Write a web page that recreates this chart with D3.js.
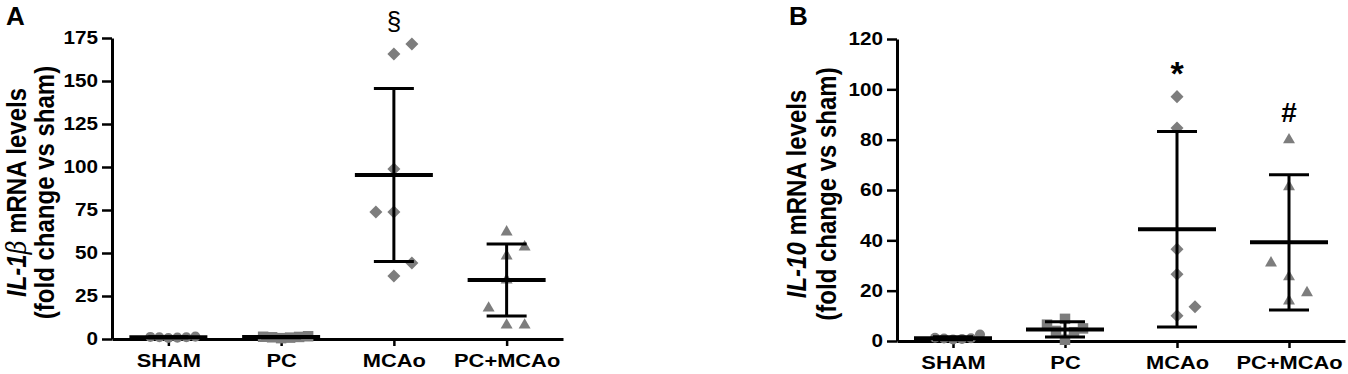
<!DOCTYPE html>
<html>
<head>
<meta charset="utf-8">
<script src="https://cdn.jsdelivr.net/npm/d3@7"></script>
<style>
  body { margin: 0; background: #fff; }
  svg { font-family: "Liberation Sans", Arial, sans-serif; }
</style>
</head>
<body>
<svg id="chart" width="1348" height="374"></svg>
<script>
// ---- data ----
const categories = ["SHAM", "PC", "MCAo", "PC+MCAo"];

// panel A: IL-1beta fold change
const il1bSham   = [0.6, 0.8, 1.0, 1.0, 1.2, 1.4];
const il1bPc     = [0.5, 0.8, 1.0, 1.2, 1.3, 1.6];
const il1bMcao   = [171.5, 165.7, 98.8, 73.8, 73.8, 44.2, 36.6];
const il1bPcMcao = [62.2, 53.5, 48.3, 34.3, 18.0, 8.1, 8.1];
const il1bMean   = [1.0, 1.1, 95.3, 34.3];
const il1bSd     = [0.3, 0.4, 50.3, 20.9];
const il1bTicks  = [0, 25, 50, 75, 100, 125, 150, 175];

// panel B: IL-10 fold change
const il10Sham   = [0.6, 0.8, 1.0, 1.1, 1.3, 2.6];
const il10Pc     = [8.8, 6.5, 5.0, 4.0, 3.5, 0.5];
const il10Mcao   = [97.1, 84.6, 36.5, 26.5, 13.6, 10.0];
const il10PcMcao = [79.9, 61.3, 31.0, 25.5, 19.2, 15.9];
const il10Mean   = [1.1, 4.6, 44.4, 39.2];
const il10Sd     = [0.6, 3.0, 38.8, 26.9];
const il10Ticks  = [0, 20, 40, 60, 80, 100, 120];

// significance marks above groups
const il1bMarks = [{ cat: "MCAo", label: "\u00a7" }];
const il10Marks = [{ cat: "MCAo", label: "*" }, { cat: "PC+MCAo", label: "#" }];

// ---- styling ----
const grey = "#7d7d7d";
const stretch = 1.15;   // the source figure is slightly wide
const markerStyle = {
    "SHAM":    { shape: d3.symbolCircle,   size: 80,  rotate: 0,  step: 9 },
    "PC":      { shape: d3.symbolSquare,   size: 110, rotate: 0,  step: 9 },
    "MCAo":    { shape: d3.symbolSquare,   size: 85,  rotate: 45, step: 18 },
    "PC+MCAo": { shape: d3.symbolTriangle, size: 62,  rotate: 0,  step: 18 }
};
// dy = baseline offset above the highest point of the group
const markStyle = {
    "\u00a7": { size: 26, weight: "normal", dy: -14 },
    "*":      { size: 34, weight: "bold",   dy: -12 },
    "#":      { size: 28, weight: "bold",   dy: -18 }
};

const svg = d3.select("#chart");

// spread overlapping points sideways, GraphPad style
function dodge(values, y, reach) {
    const order = d3.range(values.length).sort((a, b) => values[a] - values[b]);
    const placed = [];
    const slots = new Array(values.length);
    let side = 1;
    order.forEach(i => {
        const py = y(values[i]);
        const hits = s => placed.some(p => p.s === s && Math.abs(p.py - py) < reach);
        let s = 0;
        if (hits(0)) {
            for (let k = 1; ; k++) {
                if (!hits(side * k)) { s = side * k; break; }
                if (!hits(-side * k)) { s = -side * k; break; }
            }
            side = -Math.sign(s);
        }
        placed.push({ s, py });
        slots[i] = s;
    });
    return slots;
}

// widen tick labels in place (keeps their anchor point)
function widen(sel) {
    sel.each(function() {
        const t = d3.select(this);
        const tx = +t.attr("x") || 0;
        t.attr("x", 0).attr("transform", `translate(${tx},0) scale(${stretch},1)`);
    });
}

function drawPanel(cfg) {
    const g = svg.append("g");

    const x = d3.scalePoint()
        .domain(categories)
        .range(cfg.xRange)
        .padding(0.5);

    const y = d3.scaleLinear()
        .domain(cfg.yDomain)
        .range(cfg.yRange);

    // y axis
    const yAxis = g.append("g")
        .attr("transform", `translate(${cfg.xRange[0]},0)`)
        .call(d3.axisLeft(y).tickValues(cfg.ticks).tickSize(10).tickSizeOuter(0).tickPadding(4));
    yAxis.select(".domain").attr("stroke-width", 3);
    yAxis.selectAll(".tick line").attr("stroke-width", 2.5);
    yAxis.selectAll(".tick text")
        .attr("font-size", 18).attr("font-weight", "bold").attr("fill", "#000")
        .attr("font-family", "Liberation Sans, Arial, sans-serif")
        .call(widen);

    // x axis
    const xAxis = g.append("g")
        .attr("transform", `translate(0,${cfg.yRange[0]})`)
        .call(d3.axisBottom(x).tickSize(7).tickSizeOuter(0).tickPadding(8));
    xAxis.select(".domain").attr("stroke-width", 3);
    xAxis.selectAll(".tick line").attr("stroke-width", 2.5);
    xAxis.selectAll(".tick text")
        .attr("font-size", 19).attr("font-weight", "bold").attr("fill", "#000")
        .attr("font-family", "Liberation Sans, Arial, sans-serif")
        .call(widen);

    // points
    cfg.groups.forEach((vals, gi) => {
        const cat = categories[gi];
        const st = markerStyle[cat];
        const slots = dodge(vals, y, 18);
        g.append("g").selectAll("path")
            .data(vals)
            .join("path")
            .attr("d", d3.symbol().type(st.shape).size(st.size))
            .attr("transform", (d, i) =>
                `translate(${x(cat) + slots[i] * st.step},${y(d)}) rotate(${st.rotate})`)
            .attr("fill", grey);
    });

    // mean and SD bars
    const bars = g.append("g").attr("stroke", "#000");
    categories.forEach((cat, i) => {
        const cx = x(cat);
        const m = cfg.means[i], s = cfg.sds[i];
        bars.append("line")
            .attr("x1", cx).attr("x2", cx)
            .attr("y1", y(m + s)).attr("y2", y(Math.max(0, m - s)))
            .attr("stroke-width", 3);
        [m + s, m - s].forEach(v => {
            bars.append("line")
                .attr("x1", cx - 20).attr("x2", cx + 20)
                .attr("y1", y(v)).attr("y2", y(v))
                .attr("stroke-width", 3);
        });
        bars.append("line")
            .attr("x1", cx - 39).attr("x2", cx + 39)
            .attr("y1", y(m)).attr("y2", y(m))
            .attr("stroke-width", 4);
    });

    // significance symbols
    cfg.marks.forEach(mk => {
        const gi = categories.indexOf(mk.cat);
        const top = d3.max(cfg.groups[gi]);
        const ms = markStyle[mk.label];
        g.append("text")
            .attr("x", x(mk.cat))
            .attr("y", y(top) + ms.dy)
            .attr("text-anchor", "middle")
            .attr("font-size", ms.size)
            .attr("font-weight", ms.weight)
            .text(mk.label);
    });

    // axis title (two lines, rotated; glyphs widened like the rest)
    const cy = (cfg.yRange[0] + cfg.yRange[1]) / 2 + 4;
    const t1 = g.append("text")
        .attr("transform", `translate(${cfg.titleX[0]},${cy}) scale(${stretch},1) rotate(-90)`)
        .attr("text-anchor", "middle")
        .attr("font-size", 24).attr("font-weight", "bold");
    cfg.titleParts.forEach(p => {
        t1.append("tspan")
            .attr("font-style", p.italic ? "italic" : null)
            .attr("font-weight", p.light ? "normal" : null)
            .attr("font-family", p.serif ? "DejaVu Serif, serif" : null)
            .text(p.text);
    });
    g.append("text")
        .attr("transform", `translate(${cfg.titleX[1]},${cy}) scale(${stretch},1) rotate(-90)`)
        .attr("text-anchor", "middle")
        .attr("font-size", 24).attr("font-weight", "bold")
        .text("(fold change vs sham)");

    // panel letter
    g.append("text")
        .attr("x", cfg.letterX).attr("y", 25)
        .attr("font-size", 26).attr("font-weight", "bold")
        .text(cfg.letter);
}

drawPanel({
    letter: "A", letterX: 6,
    xRange: [112, 563], yRange: [339, 38], yDomain: [0, 175],
    ticks: il1bTicks,
    groups: [il1bSham, il1bPc, il1bMcao, il1bPcMcao],
    means: il1bMean, sds: il1bSd, marks: il1bMarks,
    titleX: [26, 54],
    titleParts: [
        { text: "IL-1", italic: true },
        { text: "\u03b2", italic: true, light: true, serif: true },
        { text: " mRNA levels" }
    ]
});

drawPanel({
    letter: "B", letterX: 789,
    xRange: [897, 1345], yRange: [341, 39], yDomain: [0, 120],
    ticks: il10Ticks,
    groups: [il10Sham, il10Pc, il10Mcao, il10PcMcao],
    means: il10Mean, sds: il10Sd, marks: il10Marks,
    titleX: [806, 836],
    titleParts: [
        { text: "IL-10", italic: true },
        { text: " mRNA levels" }
    ]
});
</script>
</body>
</html>
